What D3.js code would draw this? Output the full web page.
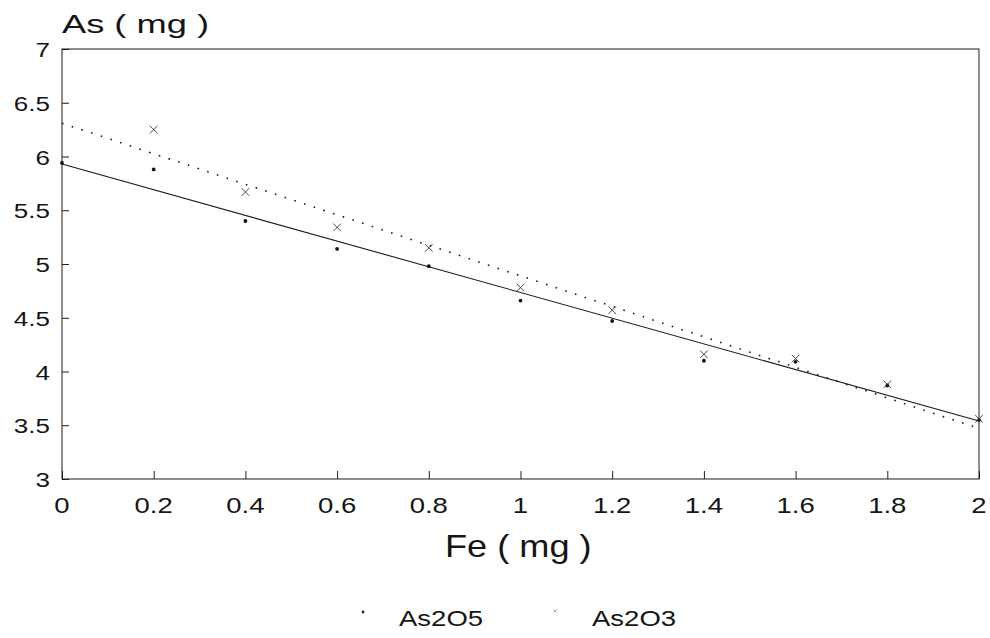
<!DOCTYPE html>
<html>
<head>
<meta charset="utf-8">
<script src="https://cdn.jsdelivr.net/npm/d3@7"></script>
<style>
  html, body { margin: 0; padding: 0; background: #fff; }
  svg { display: block; }
  text { font-family: "Liberation Sans", Arial, sans-serif; fill: #151515; }
</style>
</head>
<body>
<svg id="chart" width="990" height="638"></svg>
<script>
// ---- data ----
const feValues   = [0, 0.2, 0.4, 0.6, 0.8, 1.0, 1.2, 1.4, 1.6, 1.8, 2.0];
const as2o5      = [5.94, 5.88, 5.40, 5.14, 4.98, 4.66, 4.47, 4.10, 4.09, 3.87, 3.55];
const feAs2o3    = [0.2, 0.4, 0.6, 0.8, 1.0, 1.2, 1.4, 1.6, 1.8, 2.0];
const as2o3      = [6.25, 5.67, 5.34, 5.15, 4.78, 4.57, 4.16, 4.12, 3.88, 3.56];
const fitX       = [0, 2];
const fitAs2o5   = [5.93, 3.54];
const fitAs2o3   = [6.31, 3.47];
const xTicks     = [0, 0.2, 0.4, 0.6, 0.8, 1, 1.2, 1.4, 1.6, 1.8, 2];
const xTickLabels= ["0", "0.2", "0.4", "0.6", "0.8", "1", "1.2", "1.4", "1.6", "1.8", "2"];
const yTicks     = [3, 3.5, 4, 4.5, 5, 5.5, 6, 6.5, 7];
const yTickLabels= ["3", "3.5", "4", "4.5", "5", "5.5", "6", "6.5", "7"];
const seriesNames= ["As2O5", "As2O3"];

const svg = d3.select("#chart");
const mLeft = 62, mRight = 979, mTop = 49, mBottom = 479;
const x = d3.scaleLinear().domain([0, 2]).range([mLeft, mRight]);
const y = d3.scaleLinear().domain([3, 7]).range([mBottom, mTop]);
const ink = "#1c1c1c";

function stretch(sel, factor) {
  sel.each(function () {
    const w = this.getComputedTextLength();
    d3.select(this).attr("textLength", w * factor).attr("lengthAdjust", "spacingAndGlyphs");
  });
}

// frame
svg.append("rect")
  .attr("x", mLeft).attr("y", mTop)
  .attr("width", mRight - mLeft).attr("height", mBottom - mTop)
  .attr("fill", "none").attr("stroke", ink).attr("stroke-width", 1);

// axes (inward ticks)
const xAxis = svg.append("g").attr("transform", `translate(0,${mBottom})`)
  .call(d3.axisTop(x).tickValues(xTicks).tickSize(8).tickFormat(""));
xAxis.select(".domain").remove();
xAxis.selectAll("line").attr("stroke", ink).attr("stroke-width", 1);

const yAxis = svg.append("g").attr("transform", `translate(${mLeft},0)`)
  .call(d3.axisRight(y).tickValues(yTicks).tickSize(7).tickFormat(""));
yAxis.select(".domain").remove();
yAxis.selectAll("line").attr("stroke", ink).attr("stroke-width", 1);

// tick labels
const xl = svg.append("g").selectAll("text").data(xTicks).join("text")
  .attr("x", d => x(d)).attr("y", 513)
  .attr("text-anchor", "middle").attr("font-size", 22)
  .text((d, i) => xTickLabels[i]);
stretch(xl, 1.25);

const yl = svg.append("g").selectAll("text").data(yTicks).join("text")
  .attr("x", 50).attr("y", d => y(d) + 8)
  .attr("text-anchor", "end").attr("font-size", 20)
  .text((d, i) => yTickLabels[i]);
stretch(yl, 1.3);

// axis titles
const yt = svg.append("text").attr("x", 62).attr("y", 33).attr("font-size", 25).text("As ( mg )");
stretch(yt, 1.45);
const xt = svg.append("text").attr("x", 445).attr("y", 557).attr("font-size", 32).text("Fe ( mg )");
stretch(xt, 1.13);

// fit lines
const line = d3.line().x(d => x(d[0])).y(d => y(d[1]));
svg.append("path")
  .attr("d", line(fitX.map((v, i) => [v, fitAs2o5[i]])))
  .attr("fill", "none").attr("stroke", ink).attr("stroke-width", 1.1);
svg.append("path")
  .attr("d", line(fitX.map((v, i) => [v, fitAs2o3[i]])))
  .attr("fill", "none").attr("stroke", ink).attr("stroke-width", 1.6)
  .attr("stroke-dasharray", "1.6,8.6");

// As2O5 points (dots)
svg.append("g").selectAll("circle").data(feValues).join("circle")
  .attr("cx", d => x(d)).attr("cy", (d, i) => y(as2o5[i]))
  .attr("r", 1.9).attr("fill", "#111");

// As2O3 points (crosses)
const cross = d3.symbol().type(d3.symbolX).size(40);
svg.append("g").selectAll("path").data(feAs2o3).join("path")
  .attr("transform", (d, i) => `translate(${x(d)},${y(as2o3[i])})`)
  .attr("d", cross)
  .attr("fill", "none").attr("stroke", "#333").attr("stroke-width", 0.9);

// legend
svg.append("circle").attr("cx", 363).attr("cy", 612).attr("r", 1.4).attr("fill", "#222");
const l1 = svg.append("text").attr("x", 399).attr("y", 626).attr("font-size", 22).text(seriesNames[0]);
stretch(l1, 1.25);
svg.append("path").attr("transform", "translate(555,611)")
  .attr("d", d3.symbol().type(d3.symbolX).size(8))
  .attr("fill", "none").attr("stroke", "#888").attr("stroke-width", 0.7);
const l2 = svg.append("text").attr("x", 592).attr("y", 626).attr("font-size", 22).text(seriesNames[1]);
stretch(l2, 1.25);
</script>
</body>
</html>
